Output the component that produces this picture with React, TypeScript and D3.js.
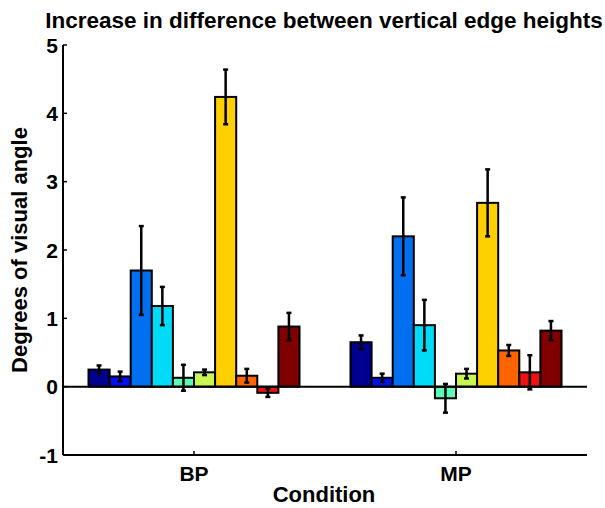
import React from "react";
import * as d3 from "d3";

const conditions = ["BP", "MP"];
const seriesColors = [
  "#000090", "#0010F0", "#0070F0", "#00DCF8", "#60F8B8",
  "#C8F850", "#FFD000", "#FF6400", "#F01010", "#800000",
];
const bpValues = [0.25, 0.15, 1.70, 1.18, 0.13, 0.21, 4.24, 0.16, -0.09, 0.88];
const bpErrors = [0.06, 0.07, 0.65, 0.28, 0.19, 0.04, 0.40, 0.10, 0.06, 0.20];
const mpValues = [0.65, 0.13, 2.20, 0.90, -0.17, 0.19, 2.69, 0.53, 0.21, 0.82];
const mpErrors = [0.10, 0.06, 0.57, 0.37, 0.21, 0.07, 0.49, 0.08, 0.25, 0.14];
const yTicks = [-1, 0, 1, 2, 3, 4, 5];

const W = 605;
const H = 508;
const left = 63;
const right = 587;
const top = 45;
const bottom = 455;
const groupWidth = 211;
const FONT = "'Liberation Sans', Arial, Helvetica, sans-serif";

export default function App() {
  const x = d3.scaleBand<string>().domain(conditions).range([left, right]).padding(0);
  const y = d3.scaleLinear().domain([-1, 5]).range([bottom, top]);
  const inner = d3
    .scaleBand<number>()
    .domain(d3.range(seriesColors.length))
    .range([-groupWidth / 2, groupWidth / 2])
    .padding(0);
  const data = [
    { cond: "BP", vals: bpValues, errs: bpErrors },
    { cond: "MP", vals: mpValues, errs: mpErrors },
  ];
  const cap = 2.5;
  return (
    <svg
      width={W}
      height={H}
      style={{ position: "absolute", left: 0, top: 0, background: "#fff" }}
      fontFamily={FONT}
      fontWeight="bold"
    >
      <rect x={0} y={0} width={W} height={H} fill="#fff" />
      <text x={324} y={28} textAnchor="middle" fontSize={22.5}>
        Increase in difference between vertical edge heights
      </text>
      {data.map((g) =>
        g.vals.map((v, i) => {
          const cx = (x(g.cond) as number) + x.bandwidth() / 2;
          const bx = cx + (inner(i) as number);
          const bw = inner.bandwidth();
          const y0 = y(0);
          const yv = y(v);
          const mid = bx + bw / 2;
          const e1 = y(v + g.errs[i]);
          const e2 = y(v - g.errs[i]);
          return (
            <g key={g.cond + i}>
              <rect
                x={bx}
                y={Math.min(y0, yv)}
                width={bw}
                height={Math.abs(y0 - yv)}
                fill={seriesColors[i]}
                stroke="#000"
                strokeWidth={2}
              />
              <line x1={mid} x2={mid} y1={e1} y2={e2} stroke="#000" strokeWidth={2.5} />
              <line x1={mid - cap} x2={mid + cap} y1={e1} y2={e1} stroke="#000" strokeWidth={2.5} />
              <line x1={mid - cap} x2={mid + cap} y1={e2} y2={e2} stroke="#000" strokeWidth={2.5} />
            </g>
          );
        })
      )}
      <line x1={left} x2={right} y1={y(0)} y2={y(0)} stroke="#000" strokeWidth={2} />
      <line x1={left} x2={left} y1={top} y2={bottom} stroke="#000" strokeWidth={2} />
      <line x1={left} x2={right} y1={bottom} y2={bottom} stroke="#000" strokeWidth={2} />
      {yTicks.map((t) => (
        <g key={t}>
          <line x1={left} x2={left + 4} y1={y(t)} y2={y(t)} stroke="#000" strokeWidth={1.5} />
          <text x={left - 5} y={y(t) + 7.5} textAnchor="end" fontSize={21}>
            {t}
          </text>
        </g>
      ))}
      {conditions.map((c) => {
        const cx = (x(c) as number) + x.bandwidth() / 2;
        return (
          <g key={c}>
            <line x1={cx} x2={cx} y1={bottom} y2={bottom - 4} stroke="#000" strokeWidth={1.5} />
            <text x={cx} y={481} textAnchor="middle" fontSize={21}>
              {c}
            </text>
          </g>
        );
      })}
      <text x={324} y={502} textAnchor="middle" fontSize={22}>
        Condition
      </text>
      <text
        transform={`translate(27, 250) rotate(-90)`}
        textAnchor="middle"
        fontSize={22}
      >
        Degrees of visual angle
      </text>
    </svg>
  );
}
